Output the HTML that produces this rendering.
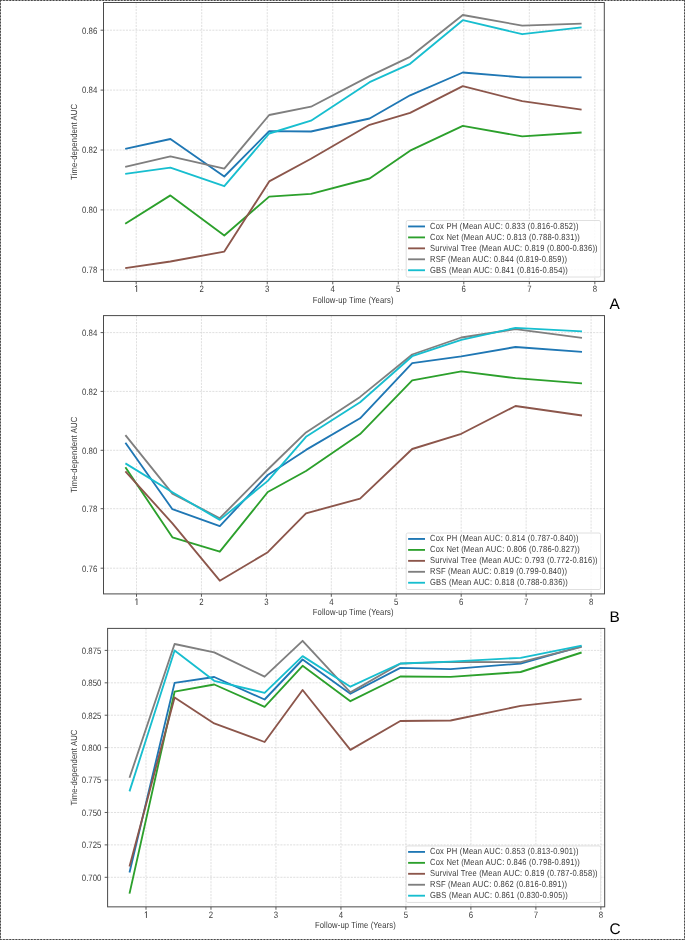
<!DOCTYPE html>
<html><head><meta charset="utf-8"><title>Time-dependent AUC</title>
<style>
html,body{margin:0;padding:0;background:#fff;}
body{width:685px;height:940px;overflow:hidden;position:relative;}
svg{position:absolute;left:0;top:0;display:block;font-family:"Liberation Sans", sans-serif;}
svg{will-change:transform;}
text{text-rendering:geometricPrecision;}
.grid{stroke:#d2d2d2;stroke-width:0.7;stroke-dasharray:2.1 1.1;fill:none;}
</style></head>
<body>
<svg width="685" height="940" viewBox="0 0 685 940">
<g stroke-width="1" fill="none">
<path d="M0 0.5H685M0 939.5H685M0.5 0V940M684.5 0V940" stroke="#b8b8b8"/>
<path d="M0 0.5H685M0 939.5H685M0.5 0V940M684.5 0V940" stroke="#484848" stroke-dasharray="1.7 1.4"/>
</g>
<line x1="136.20" y1="2.50" x2="136.20" y2="281.40" class="grid"/>
<line x1="201.72" y1="2.50" x2="201.72" y2="281.40" class="grid"/>
<line x1="267.24" y1="2.50" x2="267.24" y2="281.40" class="grid"/>
<line x1="332.76" y1="2.50" x2="332.76" y2="281.40" class="grid"/>
<line x1="398.28" y1="2.50" x2="398.28" y2="281.40" class="grid"/>
<line x1="463.80" y1="2.50" x2="463.80" y2="281.40" class="grid"/>
<line x1="529.32" y1="2.50" x2="529.32" y2="281.40" class="grid"/>
<line x1="594.84" y1="2.50" x2="594.84" y2="281.40" class="grid"/>
<line x1="103.50" y1="30.20" x2="604.30" y2="30.20" class="grid"/>
<line x1="103.50" y1="90.10" x2="604.30" y2="90.10" class="grid"/>
<line x1="103.50" y1="150.00" x2="604.30" y2="150.00" class="grid"/>
<line x1="103.50" y1="209.90" x2="604.30" y2="209.90" class="grid"/>
<line x1="103.50" y1="269.80" x2="604.30" y2="269.80" class="grid"/>
<polyline points="125.2,148.8 170.4,139.0 224.3,176.5 269.2,131.2 311.0,131.5 369.6,118.5 410.1,95.3 462.8,72.5 522.2,77.4 581.6,77.4" fill="none" stroke="#1f77b4" stroke-width="1.85" stroke-linejoin="round" stroke-linecap="butt"/>
<polyline points="125.2,223.8 170.4,195.4 224.3,235.5 269.2,196.6 311.0,193.9 369.6,178.5 410.1,150.7 462.8,125.9 522.2,136.4 581.6,132.5" fill="none" stroke="#2ca02c" stroke-width="1.85" stroke-linejoin="round" stroke-linecap="butt"/>
<polyline points="125.2,268.2 170.4,261.5 224.3,251.6 269.2,181.4 311.0,158.8 369.6,124.8 410.1,112.9 462.8,86.2 522.2,101.2 581.6,109.6" fill="none" stroke="#8c564b" stroke-width="1.85" stroke-linejoin="round" stroke-linecap="butt"/>
<polyline points="125.2,166.9 170.4,156.4 224.3,168.6 269.2,115.0 311.0,106.7 369.6,76.1 410.1,56.8 462.8,15.0 522.2,25.6 581.6,23.7" fill="none" stroke="#7f7f7f" stroke-width="1.85" stroke-linejoin="round" stroke-linecap="butt"/>
<polyline points="125.2,173.9 170.4,167.6 224.3,186.2 269.2,133.5 311.0,120.7 369.6,82.2 410.1,63.8 462.8,20.2 522.2,34.2 581.6,27.4" fill="none" stroke="#17becf" stroke-width="1.85" stroke-linejoin="round" stroke-linecap="butt"/>
<rect x="406.20" y="220.50" width="194.40" height="56.50" rx="1.6" fill="#fff" fill-opacity="0.85" stroke="#d8d8d8" stroke-width="0.8"/>
<line x1="408.10" y1="226.45" x2="425.00" y2="226.45" stroke="#1f77b4" stroke-width="1.85"/>
<text transform="translate(430.00 228.90) scale(0.86 1)" text-anchor="start" font-size="8.8" fill="#3a3a3a" textLength="172.69" lengthAdjust="spacing">Cox PH (Mean AUC: 0.833 (0.816-0.852))</text>
<line x1="408.10" y1="237.40" x2="425.00" y2="237.40" stroke="#2ca02c" stroke-width="1.85"/>
<text transform="translate(430.00 239.85) scale(0.86 1)" text-anchor="start" font-size="8.8" fill="#3a3a3a" textLength="174.25" lengthAdjust="spacing">Cox Net (Mean AUC: 0.813 (0.788-0.831))</text>
<line x1="408.10" y1="248.35" x2="425.00" y2="248.35" stroke="#8c564b" stroke-width="1.85"/>
<text transform="translate(430.00 250.80) scale(0.86 1)" text-anchor="start" font-size="8.8" fill="#3a3a3a" textLength="194.93" lengthAdjust="spacing">Survival Tree (Mean AUC: 0.819 (0.800-0.836))</text>
<line x1="408.10" y1="259.30" x2="425.00" y2="259.30" stroke="#7f7f7f" stroke-width="1.85"/>
<text transform="translate(430.00 261.75) scale(0.86 1)" text-anchor="start" font-size="8.8" fill="#3a3a3a" textLength="159.25" lengthAdjust="spacing">RSF (Mean AUC: 0.844 (0.819-0.859))</text>
<line x1="408.10" y1="270.25" x2="425.00" y2="270.25" stroke="#17becf" stroke-width="1.85"/>
<text transform="translate(430.00 272.70) scale(0.86 1)" text-anchor="start" font-size="8.8" fill="#3a3a3a" textLength="160.29" lengthAdjust="spacing">GBS (Mean AUC: 0.841 (0.816-0.854))</text>
<rect x="103.50" y="2.50" width="500.80" height="278.90" fill="none" stroke="#4a4a4a" stroke-width="1"/>
<line x1="136.20" y1="281.40" x2="136.20" y2="284.30" stroke="#4a4a4a" stroke-width="0.9"/>
<path d="M136.65 291.90V285.50L135.00 286.90" fill="none" stroke="#3a3a3a" stroke-width="0.85" stroke-linejoin="miter"/>
<line x1="201.72" y1="281.40" x2="201.72" y2="284.30" stroke="#4a4a4a" stroke-width="0.9"/>
<text transform="translate(201.72 291.90) scale(0.85 1)" text-anchor="middle" font-size="9.2" fill="#3a3a3a">2</text>
<line x1="267.24" y1="281.40" x2="267.24" y2="284.30" stroke="#4a4a4a" stroke-width="0.9"/>
<text transform="translate(267.24 291.90) scale(0.85 1)" text-anchor="middle" font-size="9.2" fill="#3a3a3a">3</text>
<line x1="332.76" y1="281.40" x2="332.76" y2="284.30" stroke="#4a4a4a" stroke-width="0.9"/>
<text transform="translate(332.76 291.90) scale(0.85 1)" text-anchor="middle" font-size="9.2" fill="#3a3a3a">4</text>
<line x1="398.28" y1="281.40" x2="398.28" y2="284.30" stroke="#4a4a4a" stroke-width="0.9"/>
<text transform="translate(398.28 291.90) scale(0.85 1)" text-anchor="middle" font-size="9.2" fill="#3a3a3a">5</text>
<line x1="463.80" y1="281.40" x2="463.80" y2="284.30" stroke="#4a4a4a" stroke-width="0.9"/>
<text transform="translate(463.80 291.90) scale(0.85 1)" text-anchor="middle" font-size="9.2" fill="#3a3a3a">6</text>
<line x1="529.32" y1="281.40" x2="529.32" y2="284.30" stroke="#4a4a4a" stroke-width="0.9"/>
<text transform="translate(529.32 291.90) scale(0.85 1)" text-anchor="middle" font-size="9.2" fill="#3a3a3a">7</text>
<line x1="594.84" y1="281.40" x2="594.84" y2="284.30" stroke="#4a4a4a" stroke-width="0.9"/>
<text transform="translate(594.84 291.90) scale(0.85 1)" text-anchor="middle" font-size="9.2" fill="#3a3a3a">8</text>
<line x1="100.60" y1="30.20" x2="103.50" y2="30.20" stroke="#4a4a4a" stroke-width="0.9"/>
<text transform="translate(97.30 33.50) scale(0.85 1)" text-anchor="end" font-size="9.2" fill="#3a3a3a">0.86</text>
<line x1="100.60" y1="90.10" x2="103.50" y2="90.10" stroke="#4a4a4a" stroke-width="0.9"/>
<text transform="translate(97.30 93.40) scale(0.85 1)" text-anchor="end" font-size="9.2" fill="#3a3a3a">0.84</text>
<line x1="100.60" y1="150.00" x2="103.50" y2="150.00" stroke="#4a4a4a" stroke-width="0.9"/>
<text transform="translate(97.30 153.30) scale(0.85 1)" text-anchor="end" font-size="9.2" fill="#3a3a3a">0.82</text>
<line x1="100.60" y1="209.90" x2="103.50" y2="209.90" stroke="#4a4a4a" stroke-width="0.9"/>
<text transform="translate(97.30 213.20) scale(0.85 1)" text-anchor="end" font-size="9.2" fill="#3a3a3a">0.80</text>
<line x1="100.60" y1="269.80" x2="103.50" y2="269.80" stroke="#4a4a4a" stroke-width="0.9"/>
<text transform="translate(97.30 273.10) scale(0.85 1)" text-anchor="end" font-size="9.2" fill="#3a3a3a">0.78</text>
<text transform="translate(353.10 302.60) scale(0.86 1)" text-anchor="middle" font-size="8.9" fill="#3a3a3a" textLength="93.95" lengthAdjust="spacing">Follow-up Time (Years)</text>
<text transform="translate(77.0 141.95) rotate(-90) translate(0.00 0.00) scale(0.86 1)" text-anchor="middle" font-size="8.9" fill="#3a3a3a" textLength="88.37" lengthAdjust="spacing">Time-dependent AUC</text>
<text x="609.40" y="308.70" font-size="15.4" fill="#000">A</text>
<line x1="136.50" y1="315.60" x2="136.50" y2="593.90" class="grid"/>
<line x1="201.44" y1="315.60" x2="201.44" y2="593.90" class="grid"/>
<line x1="266.38" y1="315.60" x2="266.38" y2="593.90" class="grid"/>
<line x1="331.32" y1="315.60" x2="331.32" y2="593.90" class="grid"/>
<line x1="396.26" y1="315.60" x2="396.26" y2="593.90" class="grid"/>
<line x1="461.20" y1="315.60" x2="461.20" y2="593.90" class="grid"/>
<line x1="526.14" y1="315.60" x2="526.14" y2="593.90" class="grid"/>
<line x1="591.08" y1="315.60" x2="591.08" y2="593.90" class="grid"/>
<line x1="103.50" y1="332.60" x2="604.50" y2="332.60" class="grid"/>
<line x1="103.50" y1="391.40" x2="604.50" y2="391.40" class="grid"/>
<line x1="103.50" y1="450.30" x2="604.50" y2="450.30" class="grid"/>
<line x1="103.50" y1="508.70" x2="604.50" y2="508.70" class="grid"/>
<line x1="103.50" y1="568.20" x2="604.50" y2="568.20" class="grid"/>
<polyline points="125.4,442.8 172.4,509.2 219.8,526.1 267.8,475.0 306.0,449.9 360.1,418.3 412.2,363.1 461.3,356.4 515.5,347.0 582.0,351.9" fill="none" stroke="#1f77b4" stroke-width="1.85" stroke-linejoin="round" stroke-linecap="butt"/>
<polyline points="125.4,467.3 172.4,537.3 219.8,551.7 267.8,492.0 306.0,471.0 360.1,434.1 412.2,380.4 461.3,371.3 515.5,378.2 582.0,383.4" fill="none" stroke="#2ca02c" stroke-width="1.85" stroke-linejoin="round" stroke-linecap="butt"/>
<polyline points="125.4,471.3 172.4,523.4 219.8,580.7 267.8,552.2 306.0,513.3 360.1,498.7 412.2,449.0 461.3,433.8 515.5,406.0 582.0,415.5" fill="none" stroke="#8c564b" stroke-width="1.85" stroke-linejoin="round" stroke-linecap="butt"/>
<polyline points="125.4,435.2 172.4,493.6 219.8,518.2 267.8,469.5 306.0,432.4 360.1,396.9 412.2,354.5 461.3,337.5 515.5,329.2 582.0,337.9" fill="none" stroke="#7f7f7f" stroke-width="1.85" stroke-linejoin="round" stroke-linecap="butt"/>
<polyline points="125.4,463.4 172.4,492.2 219.8,519.9 267.8,480.9 306.0,436.8 360.1,402.2 412.2,356.2 461.3,339.8 515.5,327.9 582.0,331.4" fill="none" stroke="#17becf" stroke-width="1.85" stroke-linejoin="round" stroke-linecap="butt"/>
<rect x="406.20" y="533.00" width="194.40" height="56.50" rx="1.6" fill="#fff" fill-opacity="0.85" stroke="#d8d8d8" stroke-width="0.8"/>
<line x1="408.10" y1="538.95" x2="425.00" y2="538.95" stroke="#1f77b4" stroke-width="1.85"/>
<text transform="translate(430.00 541.40) scale(0.86 1)" text-anchor="start" font-size="8.8" fill="#3a3a3a" textLength="172.69" lengthAdjust="spacing">Cox PH (Mean AUC: 0.814 (0.787-0.840))</text>
<line x1="408.10" y1="549.90" x2="425.00" y2="549.90" stroke="#2ca02c" stroke-width="1.85"/>
<text transform="translate(430.00 552.35) scale(0.86 1)" text-anchor="start" font-size="8.8" fill="#3a3a3a" textLength="174.25" lengthAdjust="spacing">Cox Net (Mean AUC: 0.806 (0.786-0.827))</text>
<line x1="408.10" y1="560.85" x2="425.00" y2="560.85" stroke="#8c564b" stroke-width="1.85"/>
<text transform="translate(430.00 563.30) scale(0.86 1)" text-anchor="start" font-size="8.8" fill="#3a3a3a" textLength="194.93" lengthAdjust="spacing">Survival Tree (Mean AUC: 0.793 (0.772-0.816))</text>
<line x1="408.10" y1="571.80" x2="425.00" y2="571.80" stroke="#7f7f7f" stroke-width="1.85"/>
<text transform="translate(430.00 574.25) scale(0.86 1)" text-anchor="start" font-size="8.8" fill="#3a3a3a" textLength="159.25" lengthAdjust="spacing">RSF (Mean AUC: 0.819 (0.799-0.840))</text>
<line x1="408.10" y1="582.75" x2="425.00" y2="582.75" stroke="#17becf" stroke-width="1.85"/>
<text transform="translate(430.00 585.20) scale(0.86 1)" text-anchor="start" font-size="8.8" fill="#3a3a3a" textLength="160.29" lengthAdjust="spacing">GBS (Mean AUC: 0.818 (0.788-0.836))</text>
<rect x="103.50" y="315.60" width="501.00" height="278.30" fill="none" stroke="#4a4a4a" stroke-width="1"/>
<line x1="136.50" y1="593.90" x2="136.50" y2="596.80" stroke="#4a4a4a" stroke-width="0.9"/>
<path d="M136.95 605.00V598.60L135.30 600.00" fill="none" stroke="#3a3a3a" stroke-width="0.85" stroke-linejoin="miter"/>
<line x1="201.44" y1="593.90" x2="201.44" y2="596.80" stroke="#4a4a4a" stroke-width="0.9"/>
<text transform="translate(201.44 605.00) scale(0.85 1)" text-anchor="middle" font-size="9.2" fill="#3a3a3a">2</text>
<line x1="266.38" y1="593.90" x2="266.38" y2="596.80" stroke="#4a4a4a" stroke-width="0.9"/>
<text transform="translate(266.38 605.00) scale(0.85 1)" text-anchor="middle" font-size="9.2" fill="#3a3a3a">3</text>
<line x1="331.32" y1="593.90" x2="331.32" y2="596.80" stroke="#4a4a4a" stroke-width="0.9"/>
<text transform="translate(331.32 605.00) scale(0.85 1)" text-anchor="middle" font-size="9.2" fill="#3a3a3a">4</text>
<line x1="396.26" y1="593.90" x2="396.26" y2="596.80" stroke="#4a4a4a" stroke-width="0.9"/>
<text transform="translate(396.26 605.00) scale(0.85 1)" text-anchor="middle" font-size="9.2" fill="#3a3a3a">5</text>
<line x1="461.20" y1="593.90" x2="461.20" y2="596.80" stroke="#4a4a4a" stroke-width="0.9"/>
<text transform="translate(461.20 605.00) scale(0.85 1)" text-anchor="middle" font-size="9.2" fill="#3a3a3a">6</text>
<line x1="526.14" y1="593.90" x2="526.14" y2="596.80" stroke="#4a4a4a" stroke-width="0.9"/>
<text transform="translate(526.14 605.00) scale(0.85 1)" text-anchor="middle" font-size="9.2" fill="#3a3a3a">7</text>
<line x1="591.08" y1="593.90" x2="591.08" y2="596.80" stroke="#4a4a4a" stroke-width="0.9"/>
<text transform="translate(591.08 605.00) scale(0.85 1)" text-anchor="middle" font-size="9.2" fill="#3a3a3a">8</text>
<line x1="100.60" y1="332.60" x2="103.50" y2="332.60" stroke="#4a4a4a" stroke-width="0.9"/>
<text transform="translate(97.30 335.90) scale(0.85 1)" text-anchor="end" font-size="9.2" fill="#3a3a3a">0.84</text>
<line x1="100.60" y1="391.40" x2="103.50" y2="391.40" stroke="#4a4a4a" stroke-width="0.9"/>
<text transform="translate(97.30 394.70) scale(0.85 1)" text-anchor="end" font-size="9.2" fill="#3a3a3a">0.82</text>
<line x1="100.60" y1="450.30" x2="103.50" y2="450.30" stroke="#4a4a4a" stroke-width="0.9"/>
<text transform="translate(97.30 453.60) scale(0.85 1)" text-anchor="end" font-size="9.2" fill="#3a3a3a">0.80</text>
<line x1="100.60" y1="508.70" x2="103.50" y2="508.70" stroke="#4a4a4a" stroke-width="0.9"/>
<text transform="translate(97.30 512.00) scale(0.85 1)" text-anchor="end" font-size="9.2" fill="#3a3a3a">0.78</text>
<line x1="100.60" y1="568.20" x2="103.50" y2="568.20" stroke="#4a4a4a" stroke-width="0.9"/>
<text transform="translate(97.30 571.50) scale(0.85 1)" text-anchor="end" font-size="9.2" fill="#3a3a3a">0.76</text>
<text transform="translate(353.20 615.10) scale(0.86 1)" text-anchor="middle" font-size="8.9" fill="#3a3a3a" textLength="93.95" lengthAdjust="spacing">Follow-up Time (Years)</text>
<text transform="translate(77.0 454.75) rotate(-90) translate(0.00 0.00) scale(0.86 1)" text-anchor="middle" font-size="8.9" fill="#3a3a3a" textLength="88.37" lengthAdjust="spacing">Time-dependent AUC</text>
<text x="609.40" y="621.90" font-size="15.4" fill="#000">B</text>
<line x1="146.00" y1="628.40" x2="146.00" y2="906.85" class="grid"/>
<line x1="210.98" y1="628.40" x2="210.98" y2="906.85" class="grid"/>
<line x1="275.96" y1="628.40" x2="275.96" y2="906.85" class="grid"/>
<line x1="340.94" y1="628.40" x2="340.94" y2="906.85" class="grid"/>
<line x1="405.92" y1="628.40" x2="405.92" y2="906.85" class="grid"/>
<line x1="470.90" y1="628.40" x2="470.90" y2="906.85" class="grid"/>
<line x1="535.88" y1="628.40" x2="535.88" y2="906.85" class="grid"/>
<line x1="600.86" y1="628.40" x2="600.86" y2="906.85" class="grid"/>
<line x1="107.60" y1="650.40" x2="604.70" y2="650.40" class="grid"/>
<line x1="107.60" y1="682.82" x2="604.70" y2="682.82" class="grid"/>
<line x1="107.60" y1="715.23" x2="604.70" y2="715.23" class="grid"/>
<line x1="107.60" y1="747.64" x2="604.70" y2="747.64" class="grid"/>
<line x1="107.60" y1="780.06" x2="604.70" y2="780.06" class="grid"/>
<line x1="107.60" y1="812.47" x2="604.70" y2="812.47" class="grid"/>
<line x1="107.60" y1="844.89" x2="604.70" y2="844.89" class="grid"/>
<line x1="107.60" y1="877.31" x2="604.70" y2="877.31" class="grid"/>
<polyline points="129.5,872.5 174.6,682.9 214.2,677.0 264.6,699.5 302.6,659.5 350.4,693.7 400.3,667.9 450.6,669.1 520.6,663.6 581.6,646.4" fill="none" stroke="#1f77b4" stroke-width="1.85" stroke-linejoin="round" stroke-linecap="butt"/>
<polyline points="129.5,893.6 174.6,691.7 214.2,684.5 264.6,706.8 302.6,665.8 350.4,701.2 400.3,676.5 450.6,676.9 520.6,672.0 581.6,652.5" fill="none" stroke="#2ca02c" stroke-width="1.85" stroke-linejoin="round" stroke-linecap="butt"/>
<polyline points="129.5,866.4 174.6,697.4 214.2,723.4 264.6,742.0 302.6,690.0 350.4,749.9 400.3,721.0 450.6,720.5 520.6,705.9 581.6,699.1" fill="none" stroke="#8c564b" stroke-width="1.85" stroke-linejoin="round" stroke-linecap="butt"/>
<polyline points="129.5,777.8 174.6,644.0 214.2,652.4 264.6,676.7 302.6,640.8 350.4,692.4 400.3,663.7 450.6,661.8 520.6,662.2 581.6,646.9" fill="none" stroke="#7f7f7f" stroke-width="1.85" stroke-linejoin="round" stroke-linecap="butt"/>
<polyline points="129.5,791.4 174.6,650.5 214.2,680.8 264.6,692.8 302.6,656.1 350.4,686.7 400.3,663.5 450.6,661.6 520.6,657.8 581.6,645.7" fill="none" stroke="#17becf" stroke-width="1.85" stroke-linejoin="round" stroke-linecap="butt"/>
<rect x="406.20" y="845.95" width="194.40" height="56.50" rx="1.6" fill="#fff" fill-opacity="0.85" stroke="#d8d8d8" stroke-width="0.8"/>
<line x1="408.10" y1="851.90" x2="425.00" y2="851.90" stroke="#1f77b4" stroke-width="1.85"/>
<text transform="translate(430.00 854.35) scale(0.86 1)" text-anchor="start" font-size="8.8" fill="#3a3a3a" textLength="172.69" lengthAdjust="spacing">Cox PH (Mean AUC: 0.853 (0.813-0.901))</text>
<line x1="408.10" y1="862.85" x2="425.00" y2="862.85" stroke="#2ca02c" stroke-width="1.85"/>
<text transform="translate(430.00 865.30) scale(0.86 1)" text-anchor="start" font-size="8.8" fill="#3a3a3a" textLength="174.25" lengthAdjust="spacing">Cox Net (Mean AUC: 0.846 (0.798-0.891))</text>
<line x1="408.10" y1="873.80" x2="425.00" y2="873.80" stroke="#8c564b" stroke-width="1.85"/>
<text transform="translate(430.00 876.25) scale(0.86 1)" text-anchor="start" font-size="8.8" fill="#3a3a3a" textLength="194.93" lengthAdjust="spacing">Survival Tree (Mean AUC: 0.819 (0.787-0.858))</text>
<line x1="408.10" y1="884.75" x2="425.00" y2="884.75" stroke="#7f7f7f" stroke-width="1.85"/>
<text transform="translate(430.00 887.20) scale(0.86 1)" text-anchor="start" font-size="8.8" fill="#3a3a3a" textLength="159.25" lengthAdjust="spacing">RSF (Mean AUC: 0.862 (0.816-0.891))</text>
<line x1="408.10" y1="895.70" x2="425.00" y2="895.70" stroke="#17becf" stroke-width="1.85"/>
<text transform="translate(430.00 898.15) scale(0.86 1)" text-anchor="start" font-size="8.8" fill="#3a3a3a" textLength="160.29" lengthAdjust="spacing">GBS (Mean AUC: 0.861 (0.830-0.905))</text>
<rect x="107.60" y="628.40" width="497.10" height="278.45" fill="none" stroke="#4a4a4a" stroke-width="1"/>
<line x1="146.00" y1="906.85" x2="146.00" y2="909.75" stroke="#4a4a4a" stroke-width="0.9"/>
<path d="M146.45 917.95V911.55L144.80 912.95" fill="none" stroke="#3a3a3a" stroke-width="0.85" stroke-linejoin="miter"/>
<line x1="210.98" y1="906.85" x2="210.98" y2="909.75" stroke="#4a4a4a" stroke-width="0.9"/>
<text transform="translate(210.98 917.95) scale(0.85 1)" text-anchor="middle" font-size="9.2" fill="#3a3a3a">2</text>
<line x1="275.96" y1="906.85" x2="275.96" y2="909.75" stroke="#4a4a4a" stroke-width="0.9"/>
<text transform="translate(275.96 917.95) scale(0.85 1)" text-anchor="middle" font-size="9.2" fill="#3a3a3a">3</text>
<line x1="340.94" y1="906.85" x2="340.94" y2="909.75" stroke="#4a4a4a" stroke-width="0.9"/>
<text transform="translate(340.94 917.95) scale(0.85 1)" text-anchor="middle" font-size="9.2" fill="#3a3a3a">4</text>
<line x1="405.92" y1="906.85" x2="405.92" y2="909.75" stroke="#4a4a4a" stroke-width="0.9"/>
<text transform="translate(405.92 917.95) scale(0.85 1)" text-anchor="middle" font-size="9.2" fill="#3a3a3a">5</text>
<line x1="470.90" y1="906.85" x2="470.90" y2="909.75" stroke="#4a4a4a" stroke-width="0.9"/>
<text transform="translate(470.90 917.95) scale(0.85 1)" text-anchor="middle" font-size="9.2" fill="#3a3a3a">6</text>
<line x1="535.88" y1="906.85" x2="535.88" y2="909.75" stroke="#4a4a4a" stroke-width="0.9"/>
<text transform="translate(535.88 917.95) scale(0.85 1)" text-anchor="middle" font-size="9.2" fill="#3a3a3a">7</text>
<line x1="600.86" y1="906.85" x2="600.86" y2="909.75" stroke="#4a4a4a" stroke-width="0.9"/>
<text transform="translate(600.86 917.95) scale(0.85 1)" text-anchor="middle" font-size="9.2" fill="#3a3a3a">8</text>
<line x1="104.70" y1="650.40" x2="107.60" y2="650.40" stroke="#4a4a4a" stroke-width="0.9"/>
<text transform="translate(101.40 653.70) scale(0.85 1)" text-anchor="end" font-size="9.2" fill="#3a3a3a">0.875</text>
<line x1="104.70" y1="682.82" x2="107.60" y2="682.82" stroke="#4a4a4a" stroke-width="0.9"/>
<text transform="translate(101.40 686.12) scale(0.85 1)" text-anchor="end" font-size="9.2" fill="#3a3a3a">0.850</text>
<line x1="104.70" y1="715.23" x2="107.60" y2="715.23" stroke="#4a4a4a" stroke-width="0.9"/>
<text transform="translate(101.40 718.53) scale(0.85 1)" text-anchor="end" font-size="9.2" fill="#3a3a3a">0.825</text>
<line x1="104.70" y1="747.64" x2="107.60" y2="747.64" stroke="#4a4a4a" stroke-width="0.9"/>
<text transform="translate(101.40 750.94) scale(0.85 1)" text-anchor="end" font-size="9.2" fill="#3a3a3a">0.800</text>
<line x1="104.70" y1="780.06" x2="107.60" y2="780.06" stroke="#4a4a4a" stroke-width="0.9"/>
<text transform="translate(101.40 783.36) scale(0.85 1)" text-anchor="end" font-size="9.2" fill="#3a3a3a">0.775</text>
<line x1="104.70" y1="812.47" x2="107.60" y2="812.47" stroke="#4a4a4a" stroke-width="0.9"/>
<text transform="translate(101.40 815.77) scale(0.85 1)" text-anchor="end" font-size="9.2" fill="#3a3a3a">0.750</text>
<line x1="104.70" y1="844.89" x2="107.60" y2="844.89" stroke="#4a4a4a" stroke-width="0.9"/>
<text transform="translate(101.40 848.19) scale(0.85 1)" text-anchor="end" font-size="9.2" fill="#3a3a3a">0.725</text>
<line x1="104.70" y1="877.31" x2="107.60" y2="877.31" stroke="#4a4a4a" stroke-width="0.9"/>
<text transform="translate(101.40 880.61) scale(0.85 1)" text-anchor="end" font-size="9.2" fill="#3a3a3a">0.700</text>
<text transform="translate(355.35 928.05) scale(0.86 1)" text-anchor="middle" font-size="8.9" fill="#3a3a3a" textLength="93.95" lengthAdjust="spacing">Follow-up Time (Years)</text>
<text transform="translate(77.0 767.62) rotate(-90) translate(0.00 0.00) scale(0.86 1)" text-anchor="middle" font-size="8.9" fill="#3a3a3a" textLength="88.37" lengthAdjust="spacing">Time-dependent AUC</text>
<text x="609.60" y="934.20" font-size="15.4" fill="#000">C</text>
</svg>
</body></html>
